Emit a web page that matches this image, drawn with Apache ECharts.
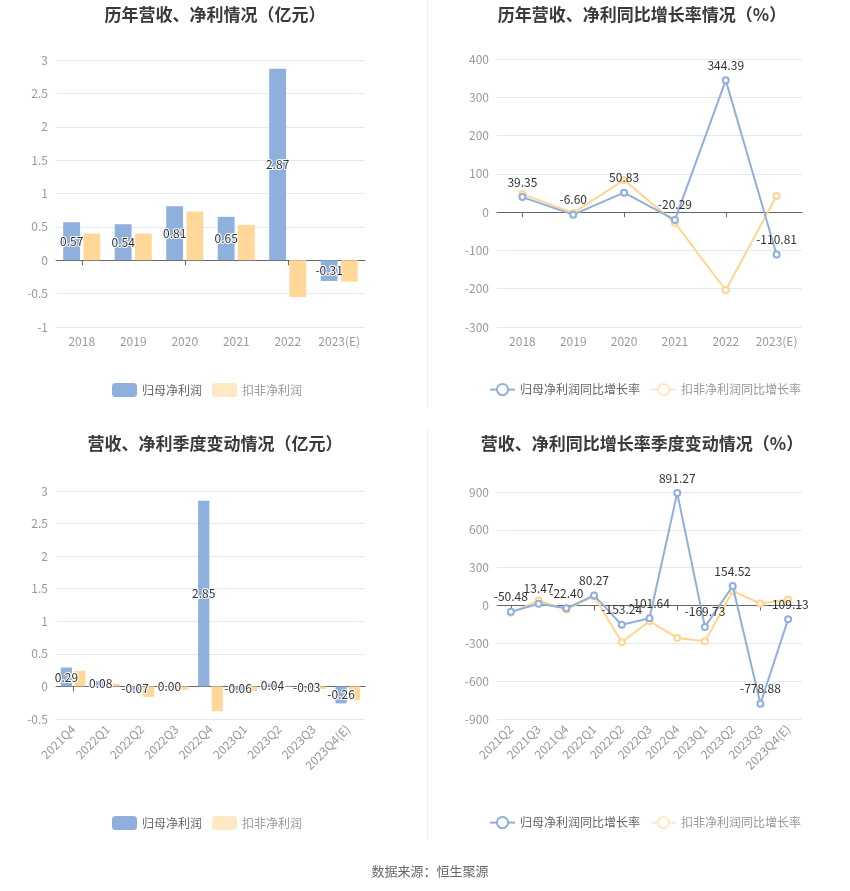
<!DOCTYPE html>
<html>
<head>
<meta charset="utf-8">
<script src="https://cdn.jsdelivr.net/npm/echarts@6/dist/echarts.min.js"></script>
<style>html,body{margin:0;padding:0;background:#fff}#c{width:850px;height:891px}</style>
</head>
<body>
<div id="c"></div>
<script>
const years = ['2018','2019','2020','2021','2022','2023(E)'];
const annualNet = [0.57,0.54,0.81,0.65,2.87,-0.31];
const annualDeducted = [0.40,0.40,0.73,0.53,-0.55,-0.32];
const annualNetGrowth = [39.35,-6.60,50.83,-20.29,344.39,-110.81];
const annualDeductedGrowth = [47,-2,84,-28,-204,42];
const quarters = ['2021Q4','2022Q1','2022Q2','2022Q3','2022Q4','2023Q1','2023Q2','2023Q3','2023Q4(E)'];
const quarterNet = [0.29,0.08,-0.07,0.00,2.85,-0.06,0.04,-0.03,-0.26];
const quarterDeducted = [0.24,0.04,-0.16,-0.05,-0.38,-0.07,0.01,-0.04,-0.21];
const growthQuarters = ['2021Q2','2021Q3','2021Q4','2022Q1','2022Q2','2022Q3','2022Q4','2023Q1','2023Q2','2023Q3','2023Q4(E)'];
const quarterNetGrowth = [-50.48,13.47,-22.40,80.27,-153.24,-101.64,891.27,-169.73,154.52,-778.88,-109.13];
const quarterDeductedGrowth = [-58,40,-32,74,-291,-124,-257,-283,114,16,48];

const FONT = '"Noto Sans CJK SC", sans-serif';
const BLUE = '#8fafdc';
const ORANGE = '#ffd899';
const LIGHT_ORANGE = '#ffe8c4';
const chart = echarts.init(document.getElementById('c'), null, {renderer:'canvas'});

const grids = [
  {left:56, top:60, width:309, height:267},
  {left:497, top:59, width:305, height:268},
  {left:56, top:491, width:309, height:228},
  {left:497, top:492, width:305, height:227}
];
const cats = [years, years, quarters, growthQuarters];
const yCfg = [
  {min:-1, max:3, interval:0.5},
  {min:-300, max:400, interval:100},
  {min:-0.5, max:3, interval:0.5},
  {min:-900, max:900, interval:300}
];
const xAxes = [];
const yAxes = [];
for (let i = 0; i < 4; i++) {
  const rot = i >= 2 ? 45 : 0;
  xAxes.push({
    type:'category', gridIndex:i, data:cats[i],
    axisLine:{show:true, onZero:true, lineStyle:{color:'#666'}},
    axisTick:{show:true, alignWithLabel:true, length:5, lineStyle:{color:'#666'}},
    axisLabel:{show:false}
  });
  xAxes.push({
    type:'category', gridIndex:i, data:cats[i], position:'bottom',
    axisLine:{show:false, onZero:false}, axisTick:{show:false},
    axisLabel:{show:true, color:'#999', fontSize:12, fontFamily:FONT, rotate:rot, margin:8, interval:0}
  });
  yAxes.push(Object.assign({
    type:'value', gridIndex:i,
    axisLine:{show:false}, axisTick:{show:false},
    axisLabel:{color:'#999', fontSize:12, fontFamily:FONT},
    splitLine:{lineStyle:{color:'#e3e8f3'}}
  }, yCfg[i]));
}

const barLabel = {
  show:true, position:'inside', color:'#333', fontSize:12, fontFamily:FONT,
  textBorderColor:'#fff', textBorderWidth:2,
  formatter: p => Number(p.value).toFixed(2)
};
const lineLabel = {
  show:true, position:'top', color:'#333', fontSize:12, fontFamily:FONT,
  formatter: p => Number(p.value).toFixed(2)
};

function barSeries(name, data, xi, yi, color, withLabel) {
  return {
    type:'bar', name, data, xAxisIndex:xi, yAxisIndex:yi,
    barCategoryGap:'28%', barGap:'20%',
    itemStyle:{color},
    label: withLabel ? barLabel : {show:false},
    z: withLabel ? 3 : 2
  };
}
function lineSeries(name, data, xi, yi, color, withLabel) {
  return {
    type:'line', name, data, xAxisIndex:xi, yAxisIndex:yi,
    symbol:'emptyCircle', symbolSize:6,
    lineStyle:{color, width:2}, itemStyle:{color, borderWidth:1.5},
    label: withLabel ? lineLabel : {show:false},
    z: withLabel ? 3 : 2
  };
}

const titleStyle = {color:'#3a3a3a', fontSize:17, fontWeight:'bold', fontFamily:FONT};
const legendBase = {padding:0, itemWidth:25, itemHeight:14, itemGap:10, textStyle:{color:'#666', fontSize:12, fontFamily:FONT}};
const barLegendData = [
  {name:'归母净利润'},
  {name:'扣非净利润', itemStyle:{color:LIGHT_ORANGE}, textStyle:{color:'#999'}}
];
const lineLegendData = [
  {name:'归母净利润同比增长率'},
  {name:'扣非净利润同比增长率', itemStyle:{color:LIGHT_ORANGE}, lineStyle:{color:LIGHT_ORANGE}, textStyle:{color:'#999'}}
];

const option = {
  animation:false,
  backgroundColor:'#fff',
  title:[
    {text:'历年营收、净利情况（亿元）', left:210, top:1, textAlign:'center', textStyle:titleStyle},
    {text:'历年营收、净利同比增长率情况（%）', left:637, top:1, textAlign:'center', textStyle:titleStyle},
    {text:'营收、净利季度变动情况（亿元）', left:210, top:430, textAlign:'center', textStyle:titleStyle},
    {text:'营收、净利同比增长率季度变动情况（%）', left:637, top:430, textAlign:'center', textStyle:titleStyle},
    {text:'数据来源：恒生聚源', left:425, top:860, textAlign:'center', textStyle:{color:'#666', fontSize:13, fontWeight:'normal', fontFamily:FONT}}
  ],
  legend:[
    Object.assign({}, legendBase, {left:112, top:383, data:barLegendData}),
    Object.assign({}, legendBase, {left:489, top:383, data:lineLegendData}),
    Object.assign({}, legendBase, {left:112, top:816, data:barLegendData}),
    Object.assign({}, legendBase, {left:489, top:816, data:lineLegendData})
  ],
  grid:grids,
  xAxis:xAxes,
  yAxis:yAxes,
  series:[
    barSeries('归母净利润', annualNet, 0, 0, BLUE, true),
    barSeries('扣非净利润', annualDeducted, 0, 0, ORANGE, false),
    lineSeries('归母净利润同比增长率', annualNetGrowth, 2, 1, BLUE, true),
    lineSeries('扣非净利润同比增长率', annualDeductedGrowth, 2, 1, '#ffd591', false),
    barSeries('归母净利润', quarterNet, 4, 2, BLUE, true),
    barSeries('扣非净利润', quarterDeducted, 4, 2, ORANGE, false),
    lineSeries('归母净利润同比增长率', quarterNetGrowth, 6, 3, BLUE, true),
    lineSeries('扣非净利润同比增长率', quarterDeductedGrowth, 6, 3, '#ffd591', false)
  ],
  graphic:[
    {type:'line', shape:{x1:427.5, y1:0, x2:427.5, y2:408}, style:{stroke:'#eeeeee', lineWidth:1}},
    {type:'line', shape:{x1:427.5, y1:430, x2:427.5, y2:840}, style:{stroke:'#eeeeee', lineWidth:1}}
  ]
};
chart.setOption(option);
</script>
</body>
</html>
